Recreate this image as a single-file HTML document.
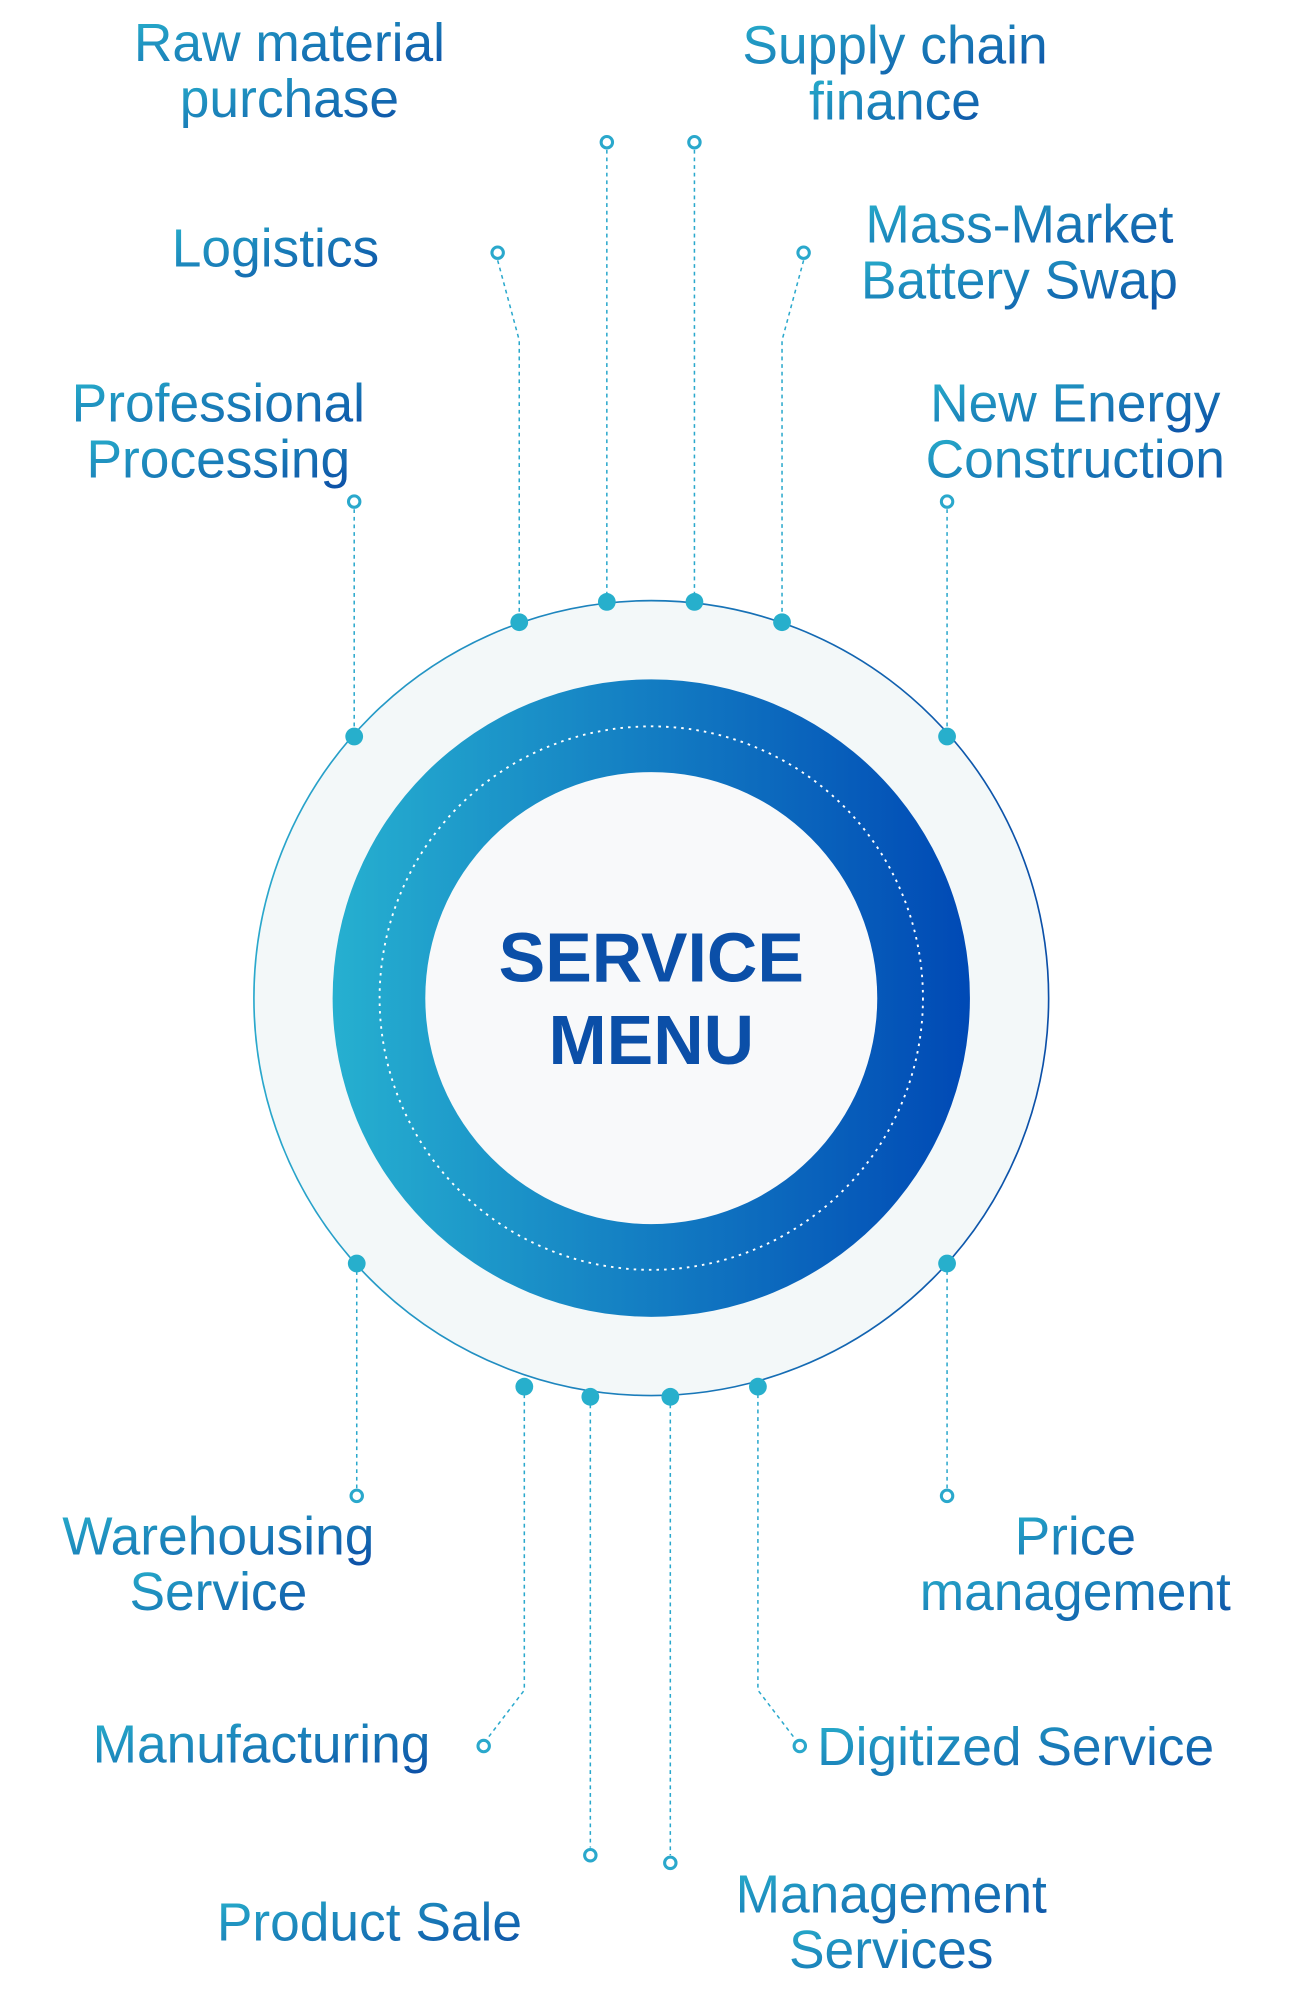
<!DOCTYPE html>
<html><head><meta charset="utf-8"><style>html,body{margin:0;padding:0;background:#fff}svg{display:block}</style></head>
<body>
<svg width="1300" height="2000" viewBox="0 0 1024 1575" preserveAspectRatio="none" xmlns="http://www.w3.org/2000/svg">
<defs>
<linearGradient id="ring" x1="0" y1="0" x2="1" y2="0">
<stop offset="0" stop-color="#26b0d0"/><stop offset="1" stop-color="#0049b5"/></linearGradient>
<linearGradient id="stk" x1="0" y1="0" x2="1" y2="0">
<stop offset="0" stop-color="#2aa8cc"/><stop offset="1" stop-color="#0b4fa8"/></linearGradient>
<linearGradient id="txt" x1="0" y1="0" x2="1" y2="1">
<stop offset="0" stop-color="#28b0cc"/><stop offset="1" stop-color="#0c4ea6"/></linearGradient>
</defs>
<g transform="translate(3,3)">
<circle cx="510" cy="783" r="313" fill="#f3f8f9" stroke="url(#stk)" stroke-width="1.3"/>
<circle cx="510" cy="783" r="251" fill="url(#ring)"/>
<circle cx="510" cy="783" r="214" fill="none" stroke="#fff" stroke-width="1.5" stroke-dasharray="2 4"/>
<circle cx="510" cy="783" r="178" fill="#f8f9fa"/>
<text x="510" y="770" text-anchor="middle" font-family="Liberation Sans, sans-serif" font-weight="bold" font-size="55" fill="#0b4fa8">SERVICE</text>
<text x="510" y="835" text-anchor="middle" font-family="Liberation Sans, sans-serif" font-weight="bold" font-size="55" fill="#0b4fa8">MENU</text>
<g fill="none" stroke="#2aa8cc" stroke-width="1.2" stroke-dasharray="3 3">
<path d="M475 115V471M544 115V471M389 202L406 265V487M630 202L613 265V487M276 398V577M743 398V577"/>
<path d="M278 992V1169M743 992V1169M410 1089V1328L381 1366M462 1097V1452M525 1097V1458M594 1089V1328L623 1366"/>
</g>
<g fill="#fff" stroke="#2aa8cc" stroke-width="2.4">
<circle cx="475" cy="109" r="4.5"/><circle cx="544" cy="109" r="4.5"/><circle cx="389" cy="196" r="4.5"/><circle cx="630" cy="196" r="4.5"/><circle cx="276" cy="392" r="4.5"/><circle cx="743" cy="392" r="4.5"/>
<circle cx="278" cy="1175" r="4.5"/><circle cx="743" cy="1175" r="4.5"/><circle cx="378" cy="1372" r="4.5"/><circle cx="627" cy="1372" r="4.5"/><circle cx="462" cy="1458" r="4.5"/><circle cx="525" cy="1464" r="4.5"/>
</g>
<g fill="#27afcc">
<circle cx="406" cy="487" r="7"/><circle cx="475" cy="471" r="7"/><circle cx="544" cy="471" r="7"/><circle cx="613" cy="487" r="7"/><circle cx="276" cy="577" r="7"/><circle cx="743" cy="577" r="7"/>
<circle cx="278" cy="992" r="7"/><circle cx="743" cy="992" r="7"/><circle cx="410" cy="1089" r="7"/><circle cx="462" cy="1097" r="7"/><circle cx="525" cy="1097" r="7"/><circle cx="594" cy="1089" r="7"/>
</g>
</g>
<g font-family="Liberation Sans, sans-serif" font-size="42" fill="url(#txt)" text-anchor="middle">
<text x="228" y="48">Raw material</text><text x="228" y="92">purchase</text>
<text x="705" y="50">Supply chain</text><text x="705" y="94">finance</text>
<text x="217" y="210">Logistics</text>
<text x="803" y="191">Mass-Market</text><text x="803" y="235">Battery Swap</text>
<text x="172" y="332">Professional</text><text x="172" y="376">Processing</text>
<text x="847" y="332">New Energy</text><text x="847" y="376">Construction</text>
<text x="172" y="1224">Warehousing</text><text x="172" y="1268">Service</text>
<text x="847" y="1224">Price</text><text x="847" y="1268">management</text>
<text x="206" y="1388">Manufacturing</text>
<text x="800" y="1390">Digitized Service</text>
<text x="291" y="1528">Product Sale</text>
<text x="702" y="1506">Management</text><text x="702" y="1550">Services</text>
</g>
</svg>
</body></html>
